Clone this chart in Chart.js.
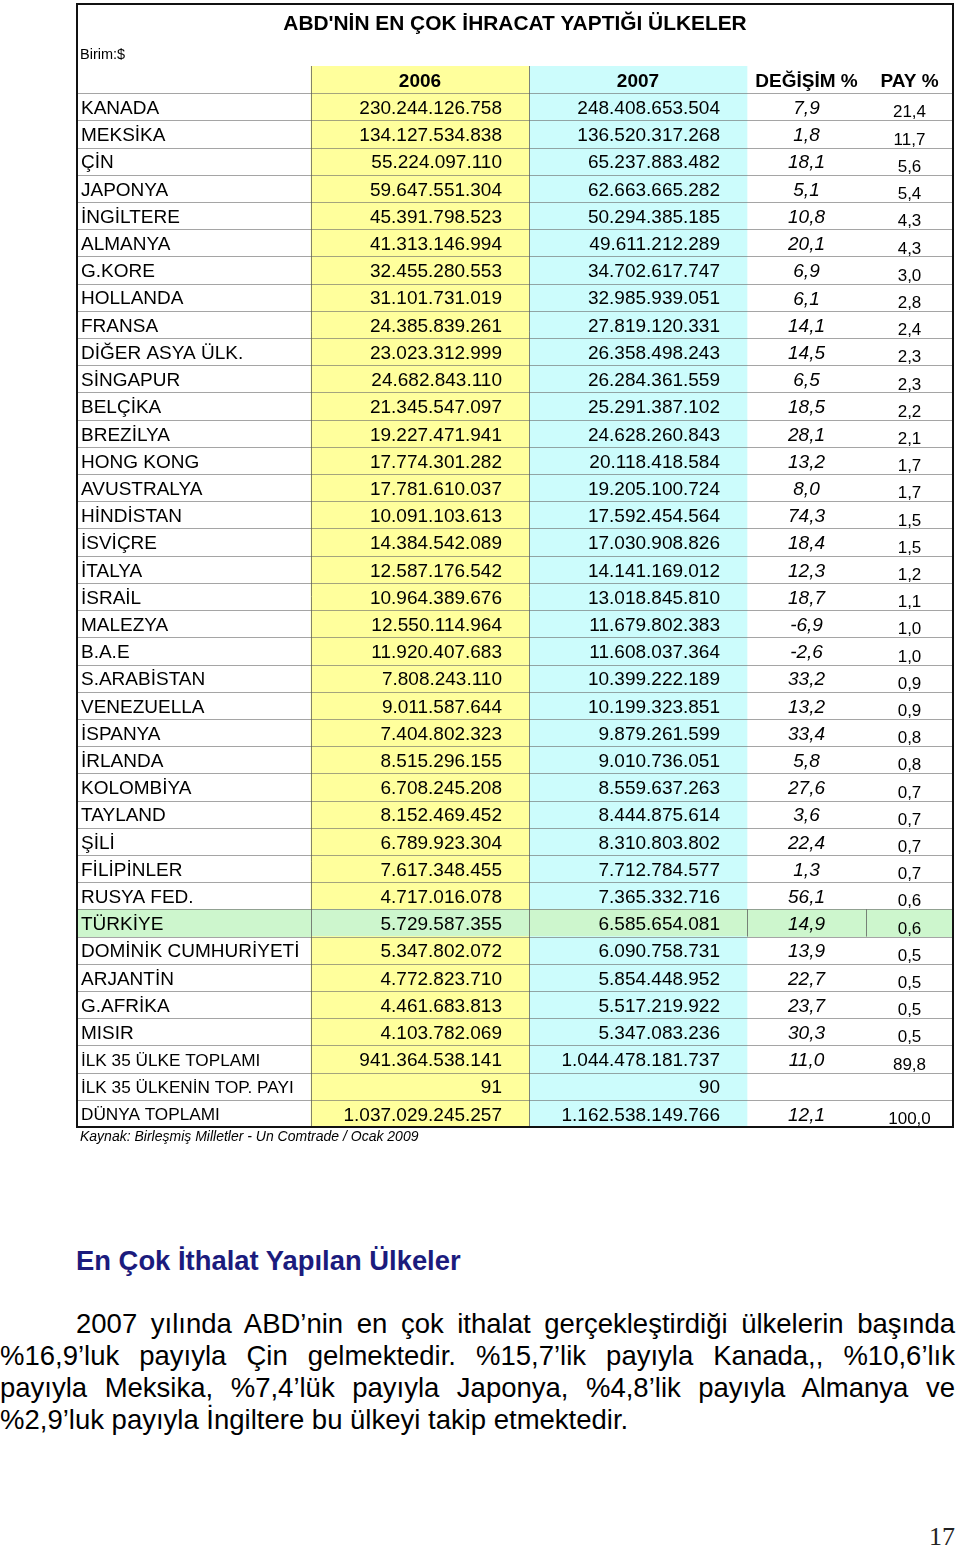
<!DOCTYPE html>
<html lang="tr">
<head>
<meta charset="utf-8">
<script src="https://cdn.jsdelivr.net/npm/chart.js@4.4.1/dist/chart.umd.min.js"></script>
<style>
  body { margin: 0; background: #fff; width: 960px; height: 1551px; position: relative; overflow: hidden; }
  #tablo { position: absolute; left: 0; top: 0; display: block; }
  .baslik { position: absolute; left: 76px; top: 1247px; font: bold 27.4px 'Liberation Sans', Arial, sans-serif; line-height: 27px; color: #1b1b7d; white-space: nowrap; }
  .paragraf { position: absolute; left: 0; top: 1308px; width: 955px; font: 27.5px 'Liberation Sans', Arial, sans-serif; color: #000; }
  .paragraf div { line-height: 32px; height: 32px; white-space: nowrap; text-align: justify; text-align-last: justify; }
  .paragraf div.ilk { padding-left: 76px; }
  .paragraf div.son { text-align-last: left; }
  .sayfa { position: absolute; right: 5px; top: 1522px; font: 26px 'Liberation Serif', 'Times New Roman', serif; line-height: 30px; color: #222; }
</style>
</head>
<body>
<canvas id="tablo" width="960" height="1150"></canvas>
<div class="baslik">En Çok İthalat Yapılan Ülkeler</div>
<div class="paragraf">
  <div class="ilk">2007 yılında ABD’nin en çok ithalat gerçekleştirdiği ülkelerin başında</div>
  <div>%16,9’luk payıyla Çin gelmektedir. %15,7’lik payıyla Kanada,, %10,6’lık</div>
  <div>payıyla Meksika, %7,4’lük payıyla Japonya, %4,8’lik payıyla Almanya ve</div>
  <div class="son">%2,9’luk payıyla İngiltere bu ülkeyi takip etmektedir.</div>
</div>
<div class="sayfa">17</div>

<script>
const baslik = "ABD'NİN EN ÇOK İHRACAT YAPTIĞI ÜLKELER";
const birim = 'Birim:$';
const kaynak = 'Kaynak: Birleşmiş Milletler - Un Comtrade / Ocak 2009';
const sutunBasliklari = ['2006', '2007', 'DEĞİŞİM %', 'PAY %'];

const ulkeler = ['KANADA', 'MEKSİKA', 'ÇİN', 'JAPONYA', 'İNGİLTERE', 'ALMANYA', 'G.KORE', 'HOLLANDA',
  'FRANSA', 'DİĞER ASYA ÜLK.', 'SİNGAPUR', 'BELÇİKA', 'BREZİLYA', 'HONG KONG', 'AVUSTRALYA',
  'HİNDİSTAN', 'İSVİÇRE', 'İTALYA', 'İSRAİL', 'MALEZYA', 'B.A.E', 'S.ARABİSTAN', 'VENEZUELLA',
  'İSPANYA', 'İRLANDA', 'KOLOMBİYA', 'TAYLAND', 'ŞİLİ', 'FİLİPİNLER', 'RUSYA FED.', 'TÜRKİYE',
  'DOMİNİK CUMHURİYETİ', 'ARJANTİN', 'G.AFRİKA', 'MISIR'];

const ihracat2006 = [230244126758, 134127534838, 55224097110, 59647551304, 45391798523, 41313146994,
  32455280553, 31101731019, 24385839261, 23023312999, 24682843110, 21345547097, 19227471941,
  17774301282, 17781610037, 10091103613, 14384542089, 12587176542, 10964389676, 12550114964,
  11920407683, 7808243110, 9011587644, 7404802323, 8515296155, 6708245208, 8152469452,
  6789923304, 7617348455, 4717016078, 5729587355, 5347802072, 4772823710, 4461683813, 4103782069];

const ihracat2007 = [248408653504, 136520317268, 65237883482, 62663665282, 50294385185, 49611212289,
  34702617747, 32985939051, 27819120331, 26358498243, 26284361559, 25291387102, 24628260843,
  20118418584, 19205100724, 17592454564, 17030908826, 14141169012, 13018845810, 11679802383,
  11608037364, 10399222189, 10199323851, 9879261599, 9010736051, 8559637263, 8444875614,
  8310803802, 7712784577, 7365332716, 6585654081, 6090758731, 5854448952, 5517219922, 5347083236];

const degisimYuzde = [7.9, 1.8, 18.1, 5.1, 10.8, 20.1, 6.9, 6.1, 14.1, 14.5, 6.5, 18.5, 28.1, 13.2, 8.0,
  74.3, 18.4, 12.3, 18.7, -6.9, -2.6, 33.2, 13.2, 33.4, 5.8, 27.6, 3.6, 22.4, 1.3, 56.1, 14.9, 13.9,
  22.7, 23.7, 30.3];

const payYuzde = [21.4, 11.7, 5.6, 5.4, 4.3, 4.3, 3.0, 2.8, 2.4, 2.3, 2.3, 2.2, 2.1, 1.7, 1.7, 1.5, 1.5,
  1.2, 1.1, 1.0, 1.0, 0.9, 0.9, 0.8, 0.8, 0.7, 0.7, 0.7, 0.7, 0.6, 0.6, 0.5, 0.5, 0.5, 0.5];

const toplamEtiketleri = ['İLK 35 ÜLKE TOPLAMI', 'İLK 35 ÜLKENİN TOP. PAYI', 'DÜNYA TOPLAMI'];
const toplam2006 = [941364538141, 91, 1037029245257];
const toplam2007 = [1044478181737, 90, 1162538149766];
const toplamDegisim = [11.0, null, 12.1];
const toplamPay = [89.8, null, 100.0];

const vurgulu = 'TÜRKİYE';

// tablo duzeni (x olcegi birimi)
const KOLON = { ulke: 0, y2006: 234, y2007: 452, degisim: 670, pay: 789, son: 876 };
const SARI = '#ffff9c';
const MAVI = '#ccfcfc';
const YESIL = '#cdf6cd';
const YAZI = "'Liberation Sans', Arial, sans-serif";

const satirlar = [''].concat(ulkeler, toplamEtiketleri);
const sutun2006 = ihracat2006.concat(toplam2006);
const sutun2007 = ihracat2007.concat(toplam2007);
const sutunDegisim = degisimYuzde.concat(toplamDegisim);
const sutunPay = payYuzde.concat(toplamPay);

const noktali = n => String(n).replace(/\B(?=(\d{3})+(?!\d))/g, '.');
const virgullu = v => v.toFixed(1).replace('.', ',');

const renk = (normal) => satirlar.map(s => s === vurgulu ? YESIL : normal);

const tabloYazilari = {
  id: 'tabloYazilari',
  afterDatasetsDraw(chart) {
    const { ctx, chartArea: a, scales: { x, y } } = chart;
    const satirY = i => y.getPixelForValue(i);
    ctx.save();

    // satir cizgileri
    ctx.lineWidth = 1;
    ctx.strokeStyle = 'rgba(105,105,105,0.6)';
    for (let i = 0; i < satirlar.length - 1; i++) {
      const yy = Math.round((satirY(i) + satirY(i + 1)) / 2) + 0.5;
      ctx.beginPath();
      ctx.moveTo(a.left, yy);
      ctx.lineTo(a.right, yy);
      ctx.stroke();
    }

    // sutun cizgileri
    ctx.strokeStyle = 'rgba(90,90,90,0.75)';
    [KOLON.y2006, KOLON.y2007].forEach(k => {
      const xx = Math.round(x.getPixelForValue(k)) + 0.5;
      ctx.beginPath();
      ctx.moveTo(xx, a.top);
      ctx.lineTo(xx, a.bottom);
      ctx.stroke();
    });
    const tr = satirlar.indexOf(vurgulu);
    const trUst = (satirY(tr - 1) + satirY(tr)) / 2;
    const trAlt = (satirY(tr) + satirY(tr + 1)) / 2;
    [KOLON.degisim, KOLON.pay].forEach(k => {
      const xx = Math.round(x.getPixelForValue(k)) + 0.5;
      ctx.beginPath();
      ctx.moveTo(xx, trUst);
      ctx.lineTo(xx, trAlt);
      ctx.stroke();
    });

    // dis cerceve
    ctx.strokeStyle = '#111';
    ctx.lineWidth = 2;
    ctx.strokeRect(a.left, 4, a.right - a.left, a.bottom - 4);

    ctx.fillStyle = '#000';
    ctx.textBaseline = 'middle';

    // baslik
    ctx.font = 'bold 20.9px ' + YAZI;
    ctx.textAlign = 'center';
    ctx.fillText(baslik, (a.left + a.right) / 2, 24);

    ctx.font = '14.5px ' + YAZI;
    ctx.textAlign = 'left';
    ctx.fillText(birim, a.left + 3, 55);

    // sutun basliklari
    const baslikY = satirY(0) + 2;
    ctx.font = 'bold 19px ' + YAZI;
    ctx.textAlign = 'center';
    const ortalar = [
      (KOLON.y2006 + KOLON.y2007) / 2,
      (KOLON.y2007 + KOLON.degisim) / 2,
      (KOLON.degisim + KOLON.pay) / 2,
      (KOLON.pay + KOLON.son) / 2
    ];
    sutunBasliklari.forEach((b, j) => ctx.fillText(b, x.getPixelForValue(ortalar[j]), baslikY));

    for (let i = 1; i < satirlar.length; i++) {
      const yy = satirY(i) + 2;
      const toplamSatiri = i > ulkeler.length;
      const k = i - 1;

      ctx.textAlign = 'left';
      ctx.font = (toplamSatiri ? '17.2px ' : '19px ') + YAZI;
      ctx.fillText(satirlar[i], x.getPixelForValue(KOLON.ulke) + 4, yy);

      ctx.font = '19px ' + YAZI;
      ctx.textAlign = 'right';
      ctx.fillText(noktali(sutun2006[k]), x.getPixelForValue(KOLON.y2007) - 27, yy);
      ctx.fillText(noktali(sutun2007[k]), x.getPixelForValue(KOLON.degisim) - 27, yy);

      ctx.textAlign = 'center';
      if (sutunDegisim[k] !== null) {
        ctx.font = 'italic 19px ' + YAZI;
        ctx.fillText(virgullu(sutunDegisim[k]), x.getPixelForValue(ortalar[2]), yy);
      }
      if (sutunPay[k] !== null) {
        ctx.font = '17px ' + YAZI;
        ctx.fillText(virgullu(sutunPay[k]), x.getPixelForValue(ortalar[3]), yy + 4);
      }
    }

    // kaynak
    ctx.font = 'italic 14px ' + YAZI;
    ctx.textAlign = 'left';
    ctx.fillText(kaynak, a.left + 3, a.bottom + 10);

    ctx.restore();
  }
};

const ctx = document.getElementById('tablo');

new Chart(ctx, {
  type: 'bar',
  data: {
    labels: satirlar,
    datasets: [
      {
        label: 'vurgu',
        data: satirlar.map(s => s === vurgulu ? [KOLON.ulke, KOLON.son] : null),
        backgroundColor: YESIL,
        order: 3
      },
      {
        label: '2006',
        data: satirlar.map(() => [KOLON.y2006, KOLON.y2007]),
        backgroundColor: renk(SARI),
        order: 1
      },
      {
        label: '2007',
        data: satirlar.map(() => [KOLON.y2007, KOLON.degisim]),
        backgroundColor: renk(MAVI),
        order: 2
      }
    ]
  },
  options: {
    indexAxis: 'y',
    responsive: false,
    animation: false,
    events: [],
    datasets: {
      bar: { grouped: false, barPercentage: 1, categoryPercentage: 1, borderWidth: 0 }
    },
    layout: { padding: { left: 77, right: 7, top: 66, bottom: 23 } },
    scales: {
      x: { type: 'linear', min: KOLON.ulke, max: KOLON.son, display: false },
      y: { type: 'category', display: false }
    },
    plugins: {
      legend: { display: false },
      tooltip: { enabled: false },
      title: { display: false }
    }
  },
  plugins: [tabloYazilari]
});
</script>
</body>
</html>
